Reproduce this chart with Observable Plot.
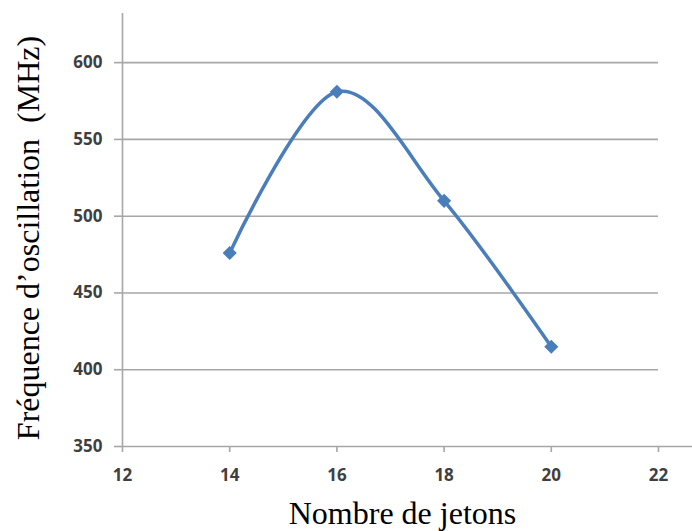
<!DOCTYPE html>
<html>
<head>
<meta charset="utf-8">
<script src="https://cdn.jsdelivr.net/npm/d3@7"></script>
<script src="https://cdn.jsdelivr.net/npm/@observablehq/plot@0.6"></script>
<style>
  html, body { margin: 0; padding: 0; background: #fff; }
  #chart svg { display: block; }
</style>
</head>
<body>
<div id="chart"></div>
<script>
// Data
const jetons = [14, 16, 18, 20];
const frequence = [476, 581, 510, 415];
const xTicks = [12, 14, 16, 18, 20, 22];
const yTicks = [350, 400, 450, 500, 550, 600];
const gridValues = [400, 450, 500, 550, 600];
const xLabel = "Nombre de jetons";
const yLabel = "Fréquence d’oscillation  (MHz)";

const data = jetons.map((x, i) => ({x, y: frequence[i]}));

const blue = "#4a7ebb";
const gridColor = "#a6a6a6";
const tickFont = "Open Sans, Lato, sans-serif";
const serif = "Liberation Serif, Times New Roman, serif";

const chart = Plot.plot({
  width: 692,
  height: 531,
  marginLeft: 122,
  marginRight: 34,
  marginTop: 13,
  marginBottom: 85,
  x: {domain: [12, 22]},
  y: {domain: [350, 632]},
  style: {background: "#fff", overflow: "visible"},
  marks: [
    Plot.ruleY(gridValues, {x1: 12, x2: 22, stroke: gridColor, strokeWidth: 1.6}),
    Plot.ruleY([350], {x1: 12, x2: 22.64, stroke: gridColor, strokeWidth: 1.6, clip: false}),
    Plot.ruleX([12], {y1: 350, y2: 632, stroke: gridColor, strokeWidth: 1.6}),
    Plot.axisX({
      ticks: xTicks, tickSize: 6, tickPadding: 16, label: null,
      stroke: gridColor, strokeWidth: 1.6,
      fontSize: 17, fontWeight: "bold", fontFamily: tickFont, color: "#3f3f3f"
    }),
    Plot.axisY({
      ticks: yTicks, tickSize: 8, tickPadding: 12, label: null,
      stroke: gridColor, strokeWidth: 1.6,
      fontSize: 17, fontWeight: "bold", fontFamily: tickFont, color: "#3f3f3f"
    }),
    Plot.line(data, {x: "x", y: "y", curve: "cardinal", stroke: blue, strokeWidth: 3.5}),
    Plot.dot(data, {x: "x", y: "y", symbol: "diamond2", r: 5.4, fill: blue, stroke: blue}),
    Plot.text([xLabel], {
      frameAnchor: "bottom", dx: 12, dy: 77, fontSize: 32, fontFamily: serif,
      fill: "#000", text: d => d
    }),
    Plot.text([yLabel], {
      frameAnchor: "left", textAnchor: "middle", rotate: -90, dx: -94, dy: 8,
      fontSize: 32, fontFamily: serif, fill: "#000", text: d => d
    })
  ]
});
document.getElementById("chart").appendChild(chart);
</script>
</body>
</html>
